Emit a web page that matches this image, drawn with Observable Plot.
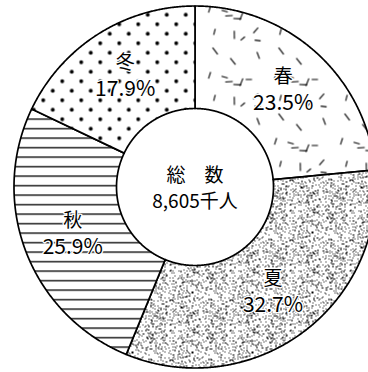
<!DOCTYPE html>
<html><head><meta charset="utf-8">
<script src="https://cdn.jsdelivr.net/npm/d3@7"></script>
<script src="https://cdn.jsdelivr.net/npm/@observablehq/plot@0.6"></script>
<style>body{margin:0;background:#fff}</style>
</head><body><div id="chart"></div>
<script>
// ---- data ----
const seasons = ["春", "夏", "秋", "冬"];
const shares = [23.5, 32.7, 25.9, 17.9];
const patternNames = ["dash", "stipple", "hline", "dot"];
const centerTitle = "総　数";
const centerValue = "8,605千人";

// ---- layout ----
const W = 368, H = 372, CX = 194.5, CY = 186.5, R = 181, R0 = 78.5;
const rIn = R0 / R, rLabel = 131 / R;

const arcs = d3.pie().sort(null).value(d => d)(shares);

function slicePoints(p) {
  const n = Math.max(8, Math.ceil((p.endAngle - p.startAngle) / 0.005));
  const pts = [];
  for (let k = 0; k <= n; k++) {
    const a = p.startAngle + (p.endAngle - p.startAngle) * k / n;
    pts.push({x: Math.sin(a), y: Math.cos(a)});
  }
  for (let k = n; k >= 0; k--) {
    const a = p.startAngle + (p.endAngle - p.startAngle) * k / n;
    pts.push({x: rIn * Math.sin(a), y: rIn * Math.cos(a)});
  }
  pts.push(pts[0]);
  return pts;
}

const labels = arcs.map((p, i) => {
  const m = (p.startAngle + p.endAngle) / 2;
  return {name: seasons[i], pct: shares[i].toFixed(1) + "%", x: rLabel * Math.sin(m), y: rLabel * Math.cos(m)};
});

const font = "'Noto Sans CJK JP', 'Noto Sans', sans-serif";

const marks = arcs.map((p, i) =>
  Plot.line(slicePoints(p), {
    x: "x", y: "y",
    fill: `url(#pat-${patternNames[i]})`,
    stroke: "black", strokeWidth: 1.7, strokeLinejoin: "round"
  })
);
marks.push(
  Plot.text(labels, {x: "x", y: "y", text: "name", dy: -13, fontSize: 19, fill: "black",
    stroke: "white", strokeWidth: 2.5, fontFamily: font}),
  Plot.text(labels, {x: "x", y: "y", text: "pct", dy: 13, fontSize: 21, fill: "black",
    stroke: "white", strokeWidth: 2.5, fontFamily: font}),
  Plot.text([{x: 0, y: 0}], {x: "x", y: "y", text: () => centerTitle, dy: -11, fontSize: 19, fill: "black", fontFamily: font}),
  Plot.text([{x: 0, y: 0}], {x: "x", y: "y", text: () => centerValue, dy: 15, fontSize: 19, fill: "black", fontFamily: font})
);

const svg = Plot.plot({
  width: W, height: H,
  margin: 0,
  x: {axis: null, domain: [-CX / R, (W - CX) / R]},
  y: {axis: null, domain: [-(H - CY) / R, CY / R]},
  style: {background: "white", fontFamily: font},
  marks
});

// ---- fill patterns ----
let seed = 20240601;
const rnd = () => ((seed = (Math.imul(seed, 1664525) + 1013904223) >>> 0) / 4294967296);

let stip = '<pattern id="pat-stipple" patternUnits="userSpaceOnUse" width="60" height="60"><rect width="60" height="60" fill="white"/><g fill="black" shape-rendering="crispEdges">';
for (let i = 0; i < 600; i++) {
  stip += `<rect x="${Math.floor(rnd() * 60)}" y="${Math.floor(rnd() * 60)}" width="1" height="1"/>`;
}
stip += '</g></pattern>';

let dash = '<pattern id="pat-dash" patternUnits="userSpaceOnUse" width="66" height="66"><rect width="66" height="66" fill="white"/><g stroke="black" stroke-width="1.1">';
for (let r = 0; r < 3; r++) for (let c = 0; c < 3; c++) {
  const cx = c * 22 + 5 + rnd() * 12, cy = r * 22 + 5 + rnd() * 12;
  const a = rnd() * Math.PI, L = 2.8 + rnd() * 1.5;
  dash += `<line x1="${(cx - L * Math.cos(a)).toFixed(2)}" y1="${(cy - L * Math.sin(a)).toFixed(2)}" x2="${(cx + L * Math.cos(a)).toFixed(2)}" y2="${(cy + L * Math.sin(a)).toFixed(2)}"/>`;
}
for (let k = 0; k < 5; k++) {
  const cx = 6 + rnd() * 54, cy = 6 + rnd() * 54;
  const a = rnd() * Math.PI, L = 2.8 + rnd() * 1.5;
  dash += `<line x1="${(cx - L * Math.cos(a)).toFixed(2)}" y1="${(cy - L * Math.sin(a)).toFixed(2)}" x2="${(cx + L * Math.cos(a)).toFixed(2)}" y2="${(cy + L * Math.sin(a)).toFixed(2)}"/>`;
}
dash += '</g></pattern>';

const dot = '<pattern id="pat-dot" patternUnits="userSpaceOnUse" width="19" height="19"><rect width="19" height="19" fill="white"/><circle cx="4.75" cy="4.75" r="1.9" fill="black"/><circle cx="14.25" cy="14.25" r="1.9" fill="black"/></pattern>';
const hline = '<pattern id="pat-hline" patternUnits="userSpaceOnUse" width="20" height="9.5"><rect width="20" height="9.5" fill="white"/><rect y="4" width="20" height="1.3" fill="black"/></pattern>';

const defs = document.createElementNS("http://www.w3.org/2000/svg", "defs");
defs.innerHTML = stip + dash + dot + hline;
svg.insertBefore(defs, svg.firstChild);

document.getElementById("chart").appendChild(svg);
</script>
</body></html>
